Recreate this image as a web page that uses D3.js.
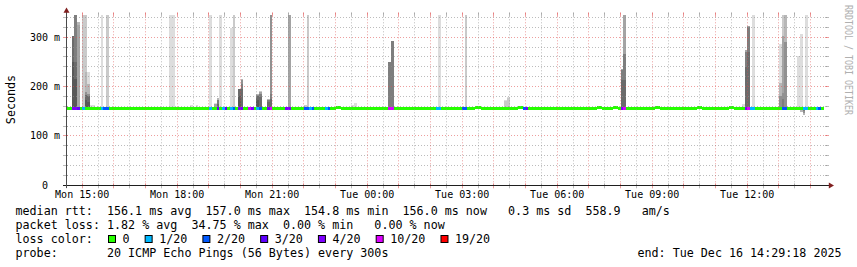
<!DOCTYPE html>
<html><head><meta charset="utf-8">
<script src="https://cdn.jsdelivr.net/npm/d3@7"></script>
<style>
html,body{margin:0;padding:0;background:#fff;}
svg{display:block;}
text{font-family:"DejaVu Sans Mono",monospace;white-space:pre;}
</style></head><body>
<svg id="chart" width="857" height="267"></svg>
<script>
// ================= DATA =================
const graphStart = Date.UTC(2025, 11, 15, 14, 29, 18);
const graphEnd   = Date.UTC(2025, 11, 16, 14, 29, 18);
const firstStepStart = Date.UTC(2025, 11, 15, 14, 30, 0);
const stepSeconds = 300;
const stepCount = 287;              // completed 5-minute steps shown
const yMaxMs = 344.5;               // top of the value axis (ms)

// median RTT (ms): typical value and the steps where it differs [fromStep, toStep, ms]
const medianTypical = 156.0;
const medianShifts = [[19,29,154.8],[31,32,154.8],[34,37,154.8],[40,41,154.8],
  [102,103,157.4],[155,156,157.4],[171,172,157.4],[201,202,157.4],[207,208,157.4],
  [223,224,157.4],[239,240,157.4],[251,252,157.4],[266,267,154.8]];

// lost pings per step (out of 20): [step, lost]
const lossSteps = [[2,4],[3,4],[4,3],[6,1],[13,1],[14,2],[15,2],[54,1],[57,3],[59,1],[60,3],
  [62,1],[63,2],[65,4],[66,4],[69,10],[70,4],[72,1],[73,2],[76,4],[77,10],[83,4],[84,4],
  [90,2],[91,2],[92,1],[93,2],[98,1],[99,2],[122,10],[123,10],[140,1],[141,1],[150,2],[151,2],
  [173,2],[174,4],[210,4],[211,10],[257,4],[258,10],[259,1],[260,1],[271,2],[272,2],
  [279,1],[280,1],[284,1],[285,2]];

// smoke above the median: [step, {smokeLayer: upper ping ms}] (layer 1 = outermost pair)
const smokeAbove = [
  [2,{3:302,5:302,7:302,8:250}],
  [3,{3:400,5:400,6:400,7:250,8:215}],
  [4,{3:330,4:325}],
  [6,{1:400,2:400}],
  [7,{1:400,2:400,3:230,5:190,7:183,8:172}],
  [8,{1:230,3:205,5:186,7:180,8:168}],
  [9,{1:162}],[10,{1:162}],
  [13,{1:400}],[15,{2:400}],
  [39,{1:400}],[40,{1:400}],
  [47,{1:163}],[49,{1:162}],
  [54,{1:400}],
  [56,{1:167,4:165}],
  [57,{1:176,3:176,6:172,7:165}],
  [58,{1:400}],
  [62,{1:318}],[63,{1:400,2:400}],
  [65,{3:196,5:196,7:195,8:180}],
  [66,{3:215,5:213,6:205,7:195}],
  [72,{3:185,5:183,7:180,8:172}],
  [73,{2:191,4:189,6:185,7:178}],
  [76,{3:174,6:172,7:168}],
  [77,{3:400,4:400,5:400,6:185,7:175}],
  [84,{3:400,4:400}],
  [90,{1:163,2:162}],[91,{2:400}],
  [108,{1:163}],[109,{1:166}],
  [122,{5:250,6:250}],[123,{5:292,6:292}],
  [141,{1:400}],[151,{2:400}],
  [166,{1:172,2:170}],[167,{1:178,2:176}],
  [210,{4:235,6:233,7:213}],
  [211,{4:400,6:267,7:213}],
  [222,{1:160}],[256,{1:164}],
  [257,{4:274,6:270,7:240}],
  [258,{4:323,6:320,7:270}],
  [260,{1:400}],
  [270,{1:287,3:207,5:180}],
  [271,{2:400,4:302,5:188,6:175}],
  [272,{3:400,5:290}],
  [277,{1:262}],[278,{1:307}],[280,{1:400}]
];
// smoke below the median: [step, {smokeLayer: lower ping ms}]
const smokeBelow = [
  [277,{3:152}],
  [278,{3:149,5:152}],
  [279,{3:143,5:146,6:150}]
];

// loss colour legend
const lossLegendLabels = ["0","1/20","2/20","3/20","4/20","10/20","19/20"];
const lossLegendLevels = [0,1,2,3,4,10,19];

// statistics text
const statLines = [
  "median rtt:  156.1 ms avg  157.0 ms max  154.8 ms min  156.0 ms now   0.3 ms sd  558.9   am/s",
  "packet loss: 1.82 % avg  34.75 % max  0.00 % min   0.00 % now"
];
const lossLegendTitle = "loss color:";
const probeLine = "probe:       20 ICMP Echo Pings (56 Bytes) every 300s";
const endLine = "end: Tue Dec 16 14:29:18 2025";
const yAxisTitle = "Seconds";
const watermark = "RRDTOOL / TOBI OETIKER";
const yTickValues = [0,100,200,300];

// ================= DRAWING =================
const svg = d3.select("#chart");
const plotLeft = 66, plotRight = 826, plotTop = 15.3, plotBottom = 185.3;
const x = d3.scaleUtc().domain([graphStart, graphEnd]).range([plotLeft, plotRight]);
const y = d3.scaleLinear().domain([0, yMaxMs]).range([plotBottom, plotTop]).clamp(true);

const stepStart = k => new Date(firstStepStart + k * stepSeconds * 1000);
const stepEnd = k => new Date(firstStepStart + (k + 1) * stepSeconds * 1000);
const medianAt = k => { let v = medianTypical; medianShifts.forEach(([a,b,m]) => { if (k >= a && k <= b) v = m; }); return v; };
const lossMap = new Map(lossSteps);
function lossColor(n){
  if (n === 0) return "#26ff00";
  if (n === 1) return "#00b8ff";
  if (n === 2) return "#0059ff";
  if (n === 3) return "#5e00ff";
  if (n < 10) return "#7e00ff";
  if (n < 19) return "#dd00ff";
  return "#ff0000";
}
function smokeShade(i){ // smokeping shade for pair i of 10
  const c = Math.floor(190 / 10 * (10 - i)) + 50;
  return d3.rgb(c, c, c).formatHex();
}

// smoke
const smokeG = svg.append("g");
function drawSmoke(list){
  list.forEach(([k, layers]) => {
    const x0 = Math.round(x(stepStart(k))), x1 = Math.round(x(stepEnd(k)));
    const med = medianAt(k);
    Object.keys(layers).map(Number).sort((a,b)=>a-b).forEach(i => {
      const v = layers[i];
      const ya = Math.round(y(v)), yb = Math.round(y(med));
      smokeG.append("rect")
        .attr("x", x0).attr("width", x1 - x0)
        .attr("y", Math.min(ya, yb)).attr("height", Math.abs(yb - ya))
        .attr("fill", smokeShade(i));
    });
  });
}
drawSmoke(smokeAbove);
drawSmoke(smokeBelow);

// median line coloured by loss
const medG = svg.append("g");
d3.range(stepCount).forEach(k => {
  const x0 = Math.round(x(stepStart(k))), x1 = Math.round(x(stepEnd(k)));
  const yc = y(medianAt(k));
  medG.append("rect")
    .attr("x", x0).attr("width", x1 - x0)
    .attr("y", Math.round(yc - 1.5)).attr("height", 3)
    .attr("fill", lossColor(lossMap.get(k) || 0));
});

// grid (on top, like rrdtool)
const gridG = svg.append("g");
const minorCol = "rgba(143,143,143,0.6)", majorCol = "rgba(222,79,79,0.55)";
d3.range(20, yMaxMs, 20).forEach(v => {
  const yy = Math.floor(y(v)) + 0.5, major = v % 100 === 0;
  const col = major ? majorCol : minorCol;
  gridG.append("line").attr("x1", plotLeft + 1).attr("x2", plotRight + 2).attr("y1", yy).attr("y2", yy)
    .attr("stroke", col).attr("stroke-width", 1).attr("stroke-dasharray", "1,2");
  gridG.append("line").attr("x1", plotLeft - 3).attr("x2", plotLeft + 2).attr("y1", yy).attr("y2", yy)
    .attr("stroke", col).attr("stroke-width", 1);
  gridG.append("line").attr("x1", plotRight - 1).attr("x2", plotRight + 3).attr("y1", yy).attr("y2", yy)
    .attr("stroke", col).attr("stroke-width", 1);
});
d3.utcMinute.every(30).range(new Date(graphStart), new Date(graphEnd)).forEach(t => {
  const xx = Math.floor(x(t)) + 0.5, major = t.getUTCMinutes() === 0;
  const col = major ? majorCol : minorCol;
  gridG.append("line").attr("x1", xx).attr("x2", xx).attr("y1", plotTop - 2).attr("y2", plotBottom)
    .attr("stroke", col).attr("stroke-width", 1).attr("stroke-dasharray", "1,2");
  gridG.append("line").attr("x1", xx).attr("x2", xx).attr("y1", plotBottom - 2).attr("y2", plotBottom + 3)
    .attr("stroke", col).attr("stroke-width", 1);
  gridG.append("line").attr("x1", xx).attr("x2", xx).attr("y1", plotTop - 3).attr("y2", plotTop + 1)
    .attr("stroke", col).attr("stroke-width", 1);
});

// axes
const axisG = svg.append("g");
axisG.append("line").attr("x1", plotLeft - 3).attr("x2", plotRight + 3).attr("y1", 185.5).attr("y2", 185.5)
  .attr("stroke", "#1f1f1f").attr("stroke-width", 1);
axisG.append("line").attr("x1", 66.5).attr("x2", 66.5).attr("y1", 11).attr("y2", 188)
  .attr("stroke", "#4a4a4a").attr("stroke-width", 1);
axisG.append("path").attr("d", "M66.5,7.5 L63.5,12.8 L69.5,12.8 Z").attr("fill", "#801f1f");
axisG.append("path").attr("d", "M834,185.5 L828.8,182.5 L828.8,188.5 Z").attr("fill", "#801f1f");

// x tick labels
const fmt = d3.utcFormat("%a %H:%M");
x.ticks(d3.utcHour.every(3)).forEach(t => {
  svg.append("text").attr("x", x(t)).attr("y", 197.5).attr("text-anchor", "middle")
    .attr("font-size", "10px").attr("fill", "#000").text(fmt(t));
});
// y tick labels
yTickValues.forEach(v => {
  svg.append("text").attr("x", 60).attr("y", Math.floor(y(v)) + 3.8).attr("text-anchor", "end")
    .attr("font-size", "10px").attr("fill", "#000").text(v === 0 ? "0  " : v + " m");
});
// y title
svg.append("text").attr("transform", "translate(15.3,99.5) rotate(-90)").attr("text-anchor", "middle")
  .attr("font-size", "11.7px").attr("fill", "#000").text(yAxisTitle);
// watermark
svg.append("text").attr("transform", "translate(845,5) rotate(90)").attr("text-anchor", "start")
  .attr("font-size", "10.5px").attr("fill", "#b0b0b0")
  .attr("textLength", 110).attr("lengthAdjust", "spacingAndGlyphs").text(watermark);

// legend
const lx = 15.5;
statLines.forEach((s, i) => {
  svg.append("text").attr("x", lx).attr("y", 215.3 + i * 13.9).attr("font-size", "11.7px").attr("fill", "#000").text(s);
});
svg.append("text").attr("x", lx).attr("y", 243.1).attr("font-size", "11.7px").attr("fill", "#000").text(lossLegendTitle);
let bx = 108.5;
lossLegendLabels.forEach((lab, i) => {
  svg.append("rect").attr("x", bx).attr("y", 235.5).attr("width", 7).attr("height", 7)
    .attr("fill", lossColor(lossLegendLevels[i])).attr("stroke", "#000").attr("stroke-width", 1);
  const tx = bx + 14;
  svg.append("text").attr("x", tx).attr("y", 243.1).attr("font-size", "11.7px").attr("fill", "#000").text(lab);
  bx = tx + lab.length * 7.04 + 15.6;
});
svg.append("text").attr("x", lx).attr("y", 257).attr("font-size", "11.7px").attr("fill", "#000").text(probeLine);
svg.append("text").attr("x", 637.5).attr("y", 257).attr("font-size", "11.7px").attr("fill", "#000").text(endLine);
</script>
</body></html>
